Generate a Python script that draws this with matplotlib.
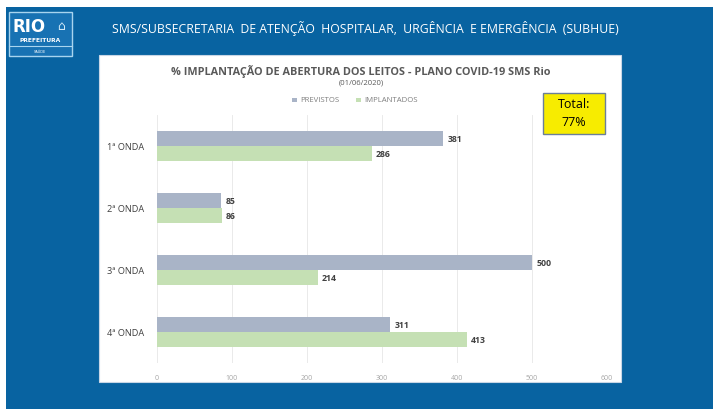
import matplotlib
matplotlib.use("Agg")
import matplotlib.pyplot as plt
from matplotlib.patches import Rectangle

categories = ["1ª ONDA", "2ª ONDA", "3ª ONDA", "4ª ONDA"]
previstos = [381, 85, 500, 311]
implantados = [286, 86, 214, 413]
series_names = ["PREVISTOS", "IMPLANTADOS"]
xticks = [0, 100, 200, 300, 400, 500, 600]

W, H = 713, 410
fig = plt.figure(figsize=(W / 100, H / 100), dpi=100)
fig.patch.set_facecolor("white")

bg = fig.add_axes([0, 0, 1, 1], zorder=0)
bg.set_xlim(0, W); bg.set_ylim(H, 0); bg.axis("off")
blue = "#0863a1"
bg.add_patch(Rectangle((6, 8), W - 6, H - 8, facecolor=blue, edgecolor="none"))
# white panel
bg.add_patch(Rectangle((99, 56), 522, 327, facecolor="white", edgecolor="#c8d6e6", lw=0.8))
# logo
bg.add_patch(Rectangle((9, 13), 63, 44, facecolor="#1872b3", edgecolor="#a8d4ef", lw=1.0))
bg.plot([9, 72], [47, 47], color="#a8d4ef", lw=0.8)
bg.text(29, 27, "RIO", color="white", fontsize=12, fontweight="bold", ha="center", va="center", family="DejaVu Sans")
bg.text(61, 27, "⌂", color="#cfe8f7", fontsize=9, ha="center", va="center", family="DejaVu Sans")
bg.text(40, 40.5, "PREFEITURA", color="white", fontsize=4.3, fontweight="bold", ha="center", va="center")
bg.text(40, 52, "SAÚDE", color="white", fontsize=2.5, ha="center", va="center")
# header
bg.text(365, 28, "SMS/SUBSECRETARIA  DE ATENÇÃO  HOSPITALAR,  URGÊNCIA  E EMERGÊNCIA  (SUBHUE)",
        color="white", fontsize=8.8, ha="center", va="center", family="Open Sans")
# titles
bg.text(361, 71, "% IMPLANTAÇÃO DE ABERTURA DOS LEITOS - PLANO COVID-19 SMS Rio",
        color="#595959", fontsize=7.8, fontweight="bold", ha="center", va="center", family="Open Sans")
bg.text(361, 83, "(01/06/2020)", color="#595959", fontsize=5.5, ha="center", va="center", family="Open Sans")
# legend
prev_col = "#a9b4c7"
impl_col = "#c5e0b4"
bg.add_patch(Rectangle((292, 98.5), 5, 4, facecolor=prev_col, edgecolor="none"))
bg.text(300, 100.5, series_names[0], color="#7f7f7f", fontsize=5.6, ha="left", va="center", family="Open Sans")
bg.add_patch(Rectangle((356, 98.5), 5, 4, facecolor=impl_col, edgecolor="none"))
bg.text(364, 100.5, series_names[1], color="#7f7f7f", fontsize=5.6, ha="left", va="center", family="Open Sans")
# total box
bg.add_patch(Rectangle((543, 94), 62, 41, facecolor="#f7ec00", edgecolor="#6b7f99", lw=1.0, zorder=5))
bg.text(574, 105, "Total:", color="black", fontsize=9, ha="center", va="center", zorder=6, family="Open Sans")
bg.text(574, 123, "77%", color="black", fontsize=9, ha="center", va="center", zorder=6, family="Open Sans")

ax = fig.add_axes([157 / W, 1 - 364 / H, 450 / W, 248 / H], zorder=2)
ax.set_facecolor("none")
n = len(categories)
ys = list(range(n))
bh = 0.245
ax.barh([y - bh / 2 for y in ys], previstos, height=bh, color=prev_col, edgecolor="none", zorder=3)
ax.barh([y + bh / 2 for y in ys], implantados, height=bh, color=impl_col, edgecolor="none", zorder=3)
for y, v in zip(ys, previstos):
    ax.text(v + 6, y - bh / 2, str(v), color="#404040", fontsize=6.3, fontweight="bold", va="center", ha="left", family="Open Sans")
for y, v in zip(ys, implantados):
    ax.text(v + 6, y + bh / 2, str(v), color="#404040", fontsize=6.3, fontweight="bold", va="center", ha="left", family="Open Sans")
ax.set_ylim(n - 0.5, -0.5)
ax.set_xlim(0, 600)
ax.set_xticks(xticks)
ax.set_xticklabels([str(t) for t in xticks], color="#a6a6a6", fontsize=5, family="Open Sans")
ax.set_yticks(ys)
ax.set_yticklabels(categories, color="#404040", fontsize=6.6, family="Open Sans")
ax.tick_params(axis="both", length=0)
ax.tick_params(axis="x", pad=8)
ax.tick_params(axis="y", pad=9)
ax.grid(axis="x", color="#e6e6e6", lw=0.6, zorder=0)
for s in ax.spines.values():
    s.set_visible(False)

fig.savefig("out.png", dpi=100)
